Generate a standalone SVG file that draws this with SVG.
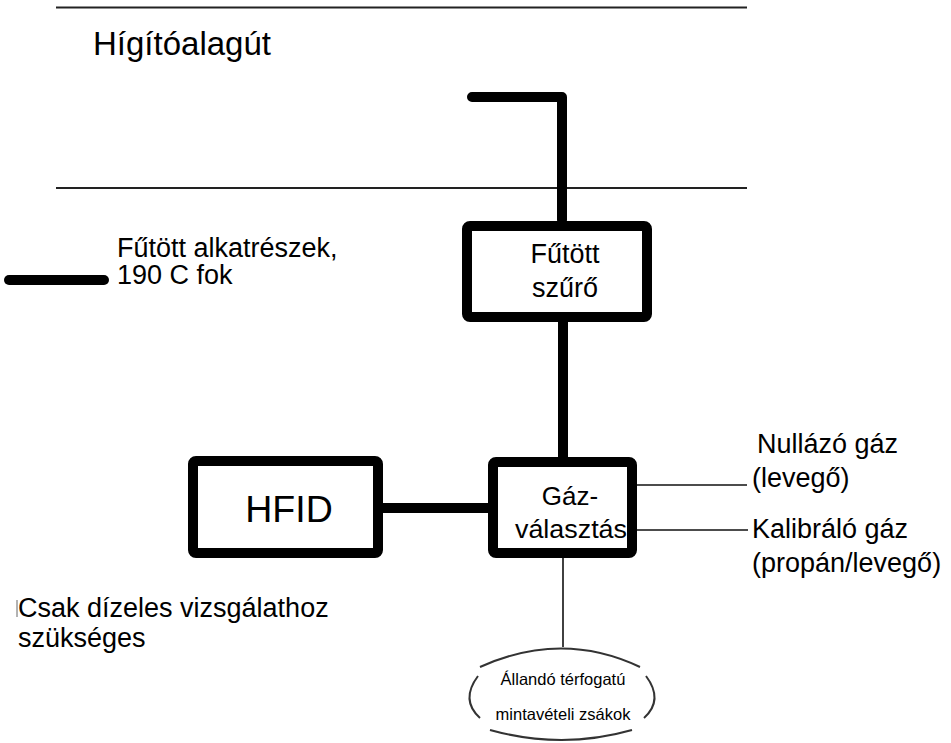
<svg xmlns="http://www.w3.org/2000/svg" width="951" height="743" viewBox="0 0 951 743">
<style>
text{font-family:"Liberation Sans",Arial,sans-serif;fill:#000}
.box{fill:#fff;stroke:#000;stroke-width:10}
.thick{fill:none;stroke:#000;stroke-width:10;stroke-linecap:round;stroke-linejoin:round}
.thin{fill:none;stroke:#111;stroke-width:1.6}
.wall{fill:none;stroke:#222;stroke-width:1.8}
.ell{fill:none;stroke:#333;stroke-width:2}
</style>
<rect width="951" height="743" fill="#fff"/>
<g id="tunnel">
<line class="wall" x1="56" y1="7.5" x2="747" y2="7.5"/>
<line class="wall" x1="56" y1="188" x2="747" y2="188"/>
<text x="93" y="55" font-size="33">Hígítóalagút</text>
</g>
<g id="legend">
<line class="thick" x1="9" y1="280" x2="104" y2="280"/>
<text x="117" y="257" font-size="27">Fűtött alkatrészek,</text>
<text x="117" y="284" font-size="27">190 C fok</text>
</g>
<g id="connectors">
<path class="thick" d="M472 97 H562 V220"/>
<line class="thick" x1="563" y1="320" x2="563" y2="458" stroke-linecap="butt"/>
<line class="thick" x1="380" y1="508" x2="490" y2="508" stroke-linecap="butt" stroke-width="9"/>
<line class="thin" x1="637" y1="485" x2="747" y2="485"/>
<line class="thin" x1="637" y1="530" x2="748" y2="530"/>
<line class="thin" x1="563" y1="558" x2="563" y2="647"/>
</g>
<g id="filter">
<rect class="box" x="467" y="226" width="180" height="91" rx="3"/>
<text x="565" y="263" font-size="27" text-anchor="middle">Fűtött</text>
<text x="565" y="297" font-size="27" text-anchor="middle">szűrő</text>
</g>
<g id="hfid">
<rect class="box" x="193" y="461" width="185" height="92" rx="3"/>
<text x="289" y="522" font-size="37.5" text-anchor="middle">HFID</text>
</g>
<g id="gas-select">
<rect class="box" x="493" y="462" width="139" height="91" rx="3"/>
<text x="570" y="505" font-size="26" text-anchor="middle">Gáz-</text>
<text x="571" y="538" font-size="26" text-anchor="middle" textLength="112" lengthAdjust="spacingAndGlyphs">választás</text>
</g>
<g id="zero-gas">
<text x="757" y="453" font-size="27">Nullázó gáz</text>
<text x="752" y="487" font-size="27">(levegő)</text>
</g>
<g id="span-gas">
<text x="752" y="538" font-size="27">Kalibráló gáz</text>
<text x="752" y="572" font-size="27">(propán/levegő)</text>
</g>
<g id="bags">
<path class="ell" d="M480 667 Q562 630 640 667"/>
<path class="ell" d="M490 730 Q562 750 632 730"/>
<path class="ell" d="M478 676 Q460 700 480 718"/>
<path class="ell" d="M646 676 Q664 700 644 718"/>
<text x="563" y="685" font-size="16.5" text-anchor="middle">Állandó térfogatú</text>
<text x="563" y="720" font-size="16.5" text-anchor="middle">mintavételi zsákok</text>
</g>
<g id="note">
<line x1="17" y1="600" x2="17" y2="617" stroke="#666" stroke-width="1"/>
<text x="18" y="617" font-size="27">Csak dízeles vizsgálathoz</text>
<text x="18" y="647" font-size="27">szükséges</text>
</g>
</svg>
